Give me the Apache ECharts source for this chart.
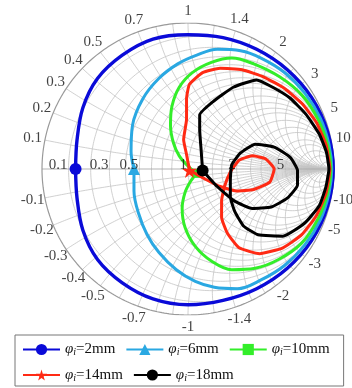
<!DOCTYPE html>
<html><head><meta charset="utf-8">
<script src="https://cdn.jsdelivr.net/npm/echarts@6/dist/echarts.min.js"></script>
<style>html,body{margin:0;padding:0;background:#fff}#c{width:352px;height:388px}</style>
</head><body><div id="c"></div>
<script>
// Series names (legend: φi=...)
const seriesNames = ['2mm', '6mm', '10mm', '14mm', '18mm'];
// Curves in reflection-coefficient coordinates [Re Γ, Im Γ]
const curve2mm = [[-0.77,0.0],[-0.76,0.20],[-0.72,0.42],[-0.62,0.62],[-0.45,0.78],[-0.24,0.89],[0.0,0.92],[0.24,0.90],[0.47,0.82],[0.68,0.68],[0.847,0.489],[0.956,0.256],[0.995,0.0],
  [0.956,-0.256],[0.847,-0.489],[0.68,-0.68],[0.47,-0.82],[0.24,-0.90],[0.0,-0.93],[-0.24,-0.89],[-0.45,-0.78],[-0.62,-0.62],[-0.72,-0.42],[-0.76,-0.20],[-0.77,0.0]];
const curve6mm = [[-0.37,0.0],[-0.39,0.12],[-0.38,0.30],[-0.31,0.48],[-0.20,0.62],[-0.07,0.72],[0.06,0.78],[0.20,0.82],[0.36,0.81],[0.50,0.76],[0.661,0.661],[0.80,0.52],[0.906,0.348],[0.965,0.17],[0.985,0.0],
  [0.965,-0.17],[0.906,-0.348],[0.80,-0.52],[0.661,-0.661],[0.50,-0.76],[0.34,-0.82],[0.18,-0.81],[0.05,-0.77],[-0.08,-0.69],[-0.20,-0.57],[-0.28,-0.45],[-0.34,-0.30],[-0.37,-0.15],[-0.37,0.0]];
const curve10mm = [[0.06,-0.03],[0.0,0.02],[-0.06,0.09],[-0.10,0.18],[-0.12,0.30],[-0.11,0.43],[-0.06,0.56],[0.03,0.66],[0.16,0.73],[0.30,0.76],[0.45,0.72],[0.63,0.63],[0.78,0.506],[0.89,0.342],[0.955,0.168],[0.978,0.0],
  [0.955,-0.168],[0.89,-0.342],[0.78,-0.506],[0.62,-0.62],[0.46,-0.68],[0.30,-0.69],[0.16,-0.63],[0.05,-0.53],[-0.02,-0.40],[-0.04,-0.27],[-0.02,-0.16],[0.02,-0.08],[0.06,-0.03]];
const curve14mm = [[0.01,-0.01],[-0.01,0.10],[-0.03,0.20],[-0.01,0.34],[-0.01,0.48],[0.01,0.58],[0.10,0.66],[0.22,0.69],[0.37,0.68],[0.52,0.63],[0.659,0.553],[0.779,0.45],[0.879,0.32],[0.945,0.167],[0.972,0.0],
  [0.945,-0.167],[0.879,-0.32],[0.779,-0.45],[0.65,-0.54],[0.49,-0.58],[0.35,-0.54],[0.27,-0.44],[0.23,-0.33],[0.23,-0.22],[0.25,-0.12],[0.29,-0.02],[0.35,0.06],[0.44,0.09],[0.53,0.07],[0.59,0.0],[0.56,-0.09],[0.45,-0.14],[0.33,-0.15],[0.22,-0.12],[0.12,-0.07],[0.03,-0.02]];
const curve18mm = [[0.10,-0.01],[0.09,0.13],[0.08,0.27],[0.08,0.37],[0.17,0.46],[0.31,0.56],[0.47,0.61],[0.58,0.56],[0.696,0.488],[0.807,0.376],[0.898,0.241],[0.948,0.116],[0.965,0.0],
  [0.945,-0.12],[0.90,-0.25],[0.80,-0.37],[0.65,-0.46],[0.48,-0.45],[0.38,-0.39],[0.32,-0.29],[0.29,-0.19],[0.29,-0.08],[0.30,0.03],[0.36,0.11],[0.46,0.17],[0.59,0.15],[0.70,0.08],[0.75,-0.01],[0.75,-0.11],[0.68,-0.20],[0.57,-0.26],[0.44,-0.27],[0.32,-0.22],[0.20,-0.12],[0.10,-0.01]];

// Smith chart tick labels
const resistanceTicks = [0.1, 0.3, 0.5, 1, 2, 5];
const reactanceTicks = [0.1, 0.2, 0.3, 0.4, 0.5, 0.7, 1, 1.4, 2, 3, 5, 10];
// Smith chart grid values
const resistanceGrid = [0.1,0.2,0.3,0.4,0.5,0.6,0.7,0.8,1,1.2,1.4,1.6,2,2.5,3,4,5,7,10,20];
const reactanceGrid = [0.1,0.2,0.3,0.4,0.5,0.6,0.7,0.8,0.9,1,1.2,1.4,1.6,1.8,2,2.5,3,4,5,7,10,20];

const colors = ['#0a0ad8', '#2aa8e2', '#33ee2a', '#ff2a14', '#000000'];
const curves = [curve2mm, curve6mm, curve10mm, curve14mm, curve18mm];
const starPath = 'path://M50,0 L61,35 L98,35 L68,57 L79,91 L50,70 L21,91 L32,57 L2,35 L39,35 Z';
const symbols = ['circle', 'triangle', 'rect', starPath, 'circle'];
const markerSizes = [12, 12, 9, 15, 12];
const lineWidths = [3.4, 3, 3, 3, 3];
const FONT = 'Liberation Serif';

const series = [];
const gridColor = '#c4c4c4';
function arc(cx, cy, rad, a0, a1) {
  const n = Math.max(8, Math.ceil(Math.abs(a1 - a0) * rad * 60));
  const pts = [];
  for (let i = 0; i <= n; i++) {
    const a = a0 + (a1 - a0) * i / n;
    pts.push([cx + rad * Math.cos(a), cy + rad * Math.sin(a)]);
  }
  return pts;
}
function addGrid(pts, color, width) {
  series.push({ type: 'line', data: pts, symbol: 'none', silent: true, animation: false, z: 1,
    lineStyle: { color: color, width: width }, tooltip: { show: false } });
}
// resistance circles
resistanceGrid.forEach(r => addGrid(arc(r / (1 + r), 0, 1 / (1 + r), 0, 2 * Math.PI), gridColor, 0.8));
// reactance arcs
reactanceGrid.forEach(x => {
  const th = Math.PI - 2 * Math.atan(x);
  let phi = Math.atan2(Math.sin(th) - 1 / x, Math.cos(th) - 1);
  if (phi > -Math.PI / 2) phi -= 2 * Math.PI;
  const up = arc(1, 1 / x, 1 / x, -Math.PI / 2, phi);
  addGrid(up, gridColor, 0.8);
  addGrid(up.map(p => [p[0], -p[1]]), gridColor, 0.8);
});
addGrid([[-1, 0], [1, 0]], '#aaaaaa', 0.9);
addGrid(arc(0, 0, 1, 0, 2 * Math.PI), '#9a9a9a', 1.2);

// data curves
curves.forEach((c, i) => {
  series.push({
    name: seriesNames[i], type: 'line', data: c, z: 5 + i,
    smooth: i < 3 ? 0.35 : 0.15,
    symbol: symbols[i], showSymbol: true,
    symbolSize: (v, p) => p.dataIndex === 0 ? markerSizes[i] : 0,
    lineStyle: { color: colors[i], width: lineWidths[i], join: 'round' },
    itemStyle: { color: colors[i] },
    animation: false
  });
});

// rim (reactance) labels
const rimLabels = [];
reactanceTicks.forEach(x => {
  [1, -1].forEach(s => {
    const th = s * (Math.PI - 2 * Math.atan(x));
    const k = 1.085;
    rimLabels.push({ value: [k * Math.cos(th), k * Math.sin(th)], name: (s < 0 ? '-' : '') + x });
  });
});
series.push({
  type: 'scatter', data: rimLabels, symbolSize: 0, clip: false, silent: true, z: 20, animation: false,
  label: { show: true, position: 'inside', formatter: '{b}', fontFamily: FONT, fontSize: 15, color: '#111' }
});
// resistance labels on the real axis
series.push({
  type: 'scatter', data: resistanceTicks.map(r => ({ value: [(r - 1) / (r + 1), 0], name: String(r) })),
  symbolSize: 0, clip: false, silent: true, z: 20, animation: false,
  label: { show: true, position: 'left', distance: 1, offset: [0, -4], formatter: '{b}', fontFamily: FONT, fontSize: 15, color: '#111' }
});

const chart = echarts.init(document.getElementById('c'));
chart.setOption({
  backgroundColor: '#fff',
  animation: false,
  grid: { left: 42, top: 23, width: 292, height: 292 },
  xAxis: { type: 'value', min: -1, max: 1, show: false },
  yAxis: { type: 'value', min: -1, max: 1, show: false },
  legend: {
    data: seriesNames, left: 15, top: 335, width: 330,
    itemWidth: 37, itemHeight: 14, itemGap: 10,
    borderColor: '#777', borderWidth: 1, padding: [7, 14, 3, 7],
    formatter: n => '{p|φ}{s|i}{t|=' + n + '}',
    textStyle: {
      color: '#111',
      rich: {
        p: { fontFamily: FONT, fontStyle: 'italic', fontSize: 15, lineHeight: 16, color: '#111' },
        s: { fontFamily: FONT, fontStyle: 'italic', fontSize: 10, lineHeight: 10, verticalAlign: 'bottom', color: '#111' },
        t: { fontFamily: FONT, fontSize: 15, lineHeight: 16, color: '#111' }
      }
    }
  },
  series: series
});
</script></body></html>
